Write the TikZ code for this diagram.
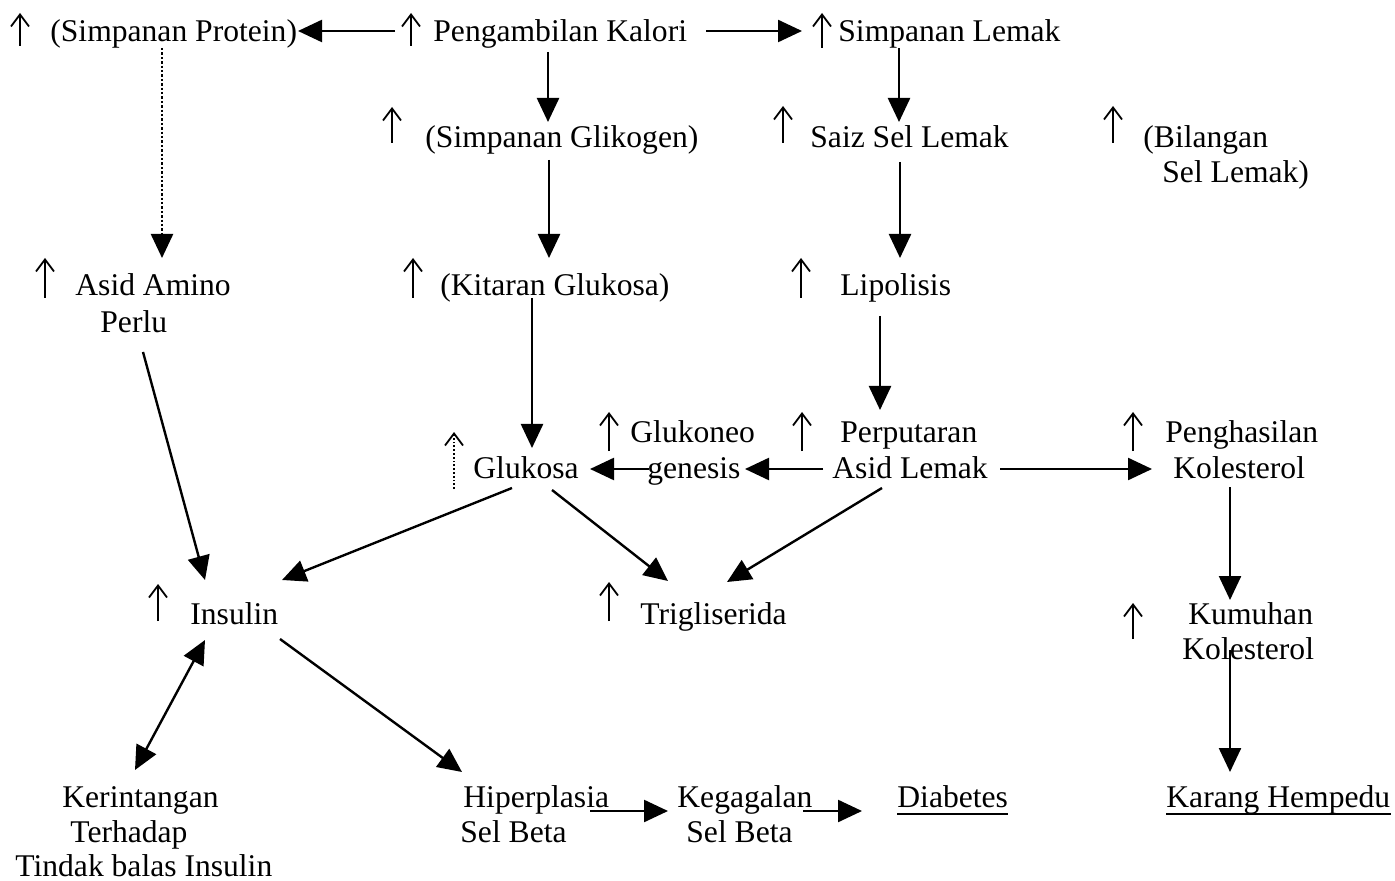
\documentclass[tikz,border=0pt]{standalone}
\usepackage{fontspec}
\setmainfont{Liberation Serif}
\usetikzlibrary{arrows.meta}
\begin{document}
\begin{tikzpicture}[x=0.5pt,y=-0.5pt,
  lbl/.style={anchor=base west, inner sep=0pt, font=\fontsize{15.8}{19}\selectfont},
  arr/.style={line width=1.2pt, -{Triangle[length=12pt,width=11pt]}},
  dblarr/.style={line width=1.2pt, {Triangle[length=12pt,width=11pt]}-{Triangle[length=12pt,width=11pt]}},
  dotarr/.style={arr, densely dotted},
  uparr/.style={line width=0.9pt, -{Straight Barb[length=6pt,width=9pt]}},
  uline/.style={line width=0.8pt}]
\useasboundingbox (0,0) rectangle (1395,881);
% ---- text nodes
\node[lbl] (sp)   at (50,42)    {(Simpanan Protein)};
\node[lbl] (pk)   at (433,42)   {Pengambilan Kalori};
\node[lbl] (sl)   at (838,42)   {Simpanan Lemak};
\node[lbl] (sg)   at (425,148)  {(Simpanan Glikogen)};
\node[lbl] (ssl)  at (810,148)  {Saiz Sel Lemak};
\node[lbl] (bsla) at (1143,148) {(Bilangan};
\node[lbl] (bslb) at (1162,183) {Sel Lemak)};
\node[lbl] (aaa)  at (75,296)   {Asid Amino};
\node[lbl] (aab)  at (100,333)  {Perlu};
\node[lbl] (kg)   at (440,296)  {(Kitaran Glukosa)};
\node[lbl] (lp)   at (840,296)  {Lipolisis};
\node[lbl] (gl)   at (473,478)  {Glukosa};
\node[lbl] (gna)  at (630,443)  {Glukoneo};
\node[lbl] (gnb)  at (647,478)  {genesis};
\node[lbl] (ala)  at (840,443)  {Perputaran};
\node[lbl] (alb)  at (832,478)  {Asid Lemak};
\node[lbl] (pka)  at (1165,443) {Penghasilan};
\node[lbl] (pkb)  at (1173,478) {Kolesterol};
\node[lbl] (ins)  at (190,624)  {Insulin};
\node[lbl] (tg)   at (640,624)  {Trigliserida};
\node[lbl] (kka)  at (1188,624) {Kumuhan};
\node[lbl] (kkb)  at (1182,659) {Kolesterol};
\node[lbl] (kra)  at (62,807)   {Kerintangan};
\node[lbl] (krb)  at (70,842)   {Terhadap};
\node[lbl] (krc)  at (15,876)   {Tindak balas Insulin};
\node[lbl] (hpa)  at (463,807)  {Hiperplasia};
\node[lbl] (hpb)  at (460,842)  {Sel Beta};
\node[lbl] (kga)  at (677,807)  {Kegagalan};
\node[lbl] (kgb)  at (686,842)  {Sel Beta};
\node[lbl] (db)   at (897,807)  {Diabetes};
\node[lbl] (kh)   at (1166,807) {Karang Hempedu};
\draw[uline] ([yshift=-3.5pt]db.base west) -- ([yshift=-3.5pt]db.base east);
\draw[uline] ([yshift=-3.5pt]kh.base west) -- ([yshift=-3.5pt]kh.base east);
% ---- increase markers
\draw[uparr] (20,46) -- (20,13);
\draw[uparr] (411,46) -- (411,13);
\draw[uparr] (822,48) -- (822,13);
\draw[uparr] (392,143) -- (392,107);
\draw[uparr] (783,143) -- (783,106);
\draw[uparr] (1113,143) -- (1113,106);
\draw[uparr] (45,298) -- (45,258);
\draw[uparr] (413,298) -- (413,258);
\draw[uparr] (801,298) -- (801,258);
\draw[uparr, densely dotted] (454,489) -- (454,432);
\draw[uparr] (609,451) -- (609,412);
\draw[uparr] (802,451) -- (802,412);
\draw[uparr] (1133,451) -- (1133,412);
\draw[uparr] (158,621) -- (158,584);
\draw[uparr] (609,621) -- (609,582);
\draw[uparr] (1133,639) -- (1133,603);
% ---- connectors
\draw[arr] ([shift={(-38,-11)}]pk.base west) -- ([shift={(248,-11)}]sp.base west);
\draw[arr] ([shift={(273,-11)}]pk.base west) -- ([shift={(-36,-11)}]sl.base west);
\draw[arr] ([shift={(115,10)}]pk.base west) -- ([shift={(123,-26)}]sg.base west);
\draw[arr] ([shift={(61,6)}]sl.base west) -- ([shift={(89,-26)}]ssl.base west);
\draw[dotarr] ([shift={(112,6)}]sp.base west) -- ([shift={(87,-38)}]aaa.base west);
\draw[arr] ([shift={(124,12)}]sg.base west) -- ([shift={(109,-38)}]kg.base west);
\draw[arr] ([shift={(90,14)}]ssl.base west) -- ([shift={(60,-38)}]lp.base west);
\draw[arr] ([shift={(92,2)}]kg.base west) -- ([shift={(59,-30)}]gl.base west);
\draw[arr] ([shift={(40,20)}]lp.base west) -- ([shift={(40,-33)}]ala.base west);
\draw[arr] ([shift={(2,-9)}]gnb.base west) -- ([shift={(117,-9)}]gl.base west);
\draw[arr] ([shift={(-9,-9)}]alb.base west) -- ([shift={(98,-9)}]gnb.base west);
\draw[arr] ([shift={(168,-9)}]alb.base west) -- ([shift={(-21,-9)}]pkb.base west);
\draw[arr] ([shift={(43,19)}]aab.base west) -- ([shift={(15,-44)}]ins.base west);
\draw[arr] ([shift={(39,10)}]gl.base west) -- ([shift={(92,-44)}]ins.base west);
\draw[arr] ([shift={(79,12)}]gl.base west) -- ([shift={(28,-43)}]tg.base west);
\draw[arr] ([shift={(50,10)}]alb.base west) -- ([shift={(87,-42)}]tg.base west);
\draw[arr] ([shift={(57,9)}]pkb.base west) -- ([shift={(42,-24)}]kka.base west);
\draw[arr] ([shift={(48,-9)}]kkb.base west) -- ([shift={(64,-35)}]kh.base west);
\draw[dblarr] ([shift={(15,16)}]ins.base west) -- ([shift={(73,-37)}]kra.base west);
\draw[arr] ([shift={(90,15)}]ins.base west) -- ([shift={(-1,-35)}]hpa.base west);
\draw[arr] ([shift={(127,4)}]hpa.base west) -- ([shift={(-9,4)}]kga.base west);
\draw[arr] ([shift={(126,4)}]kga.base west) -- ([shift={(-35,4)}]db.base west);
\end{tikzpicture}
\end{document}
